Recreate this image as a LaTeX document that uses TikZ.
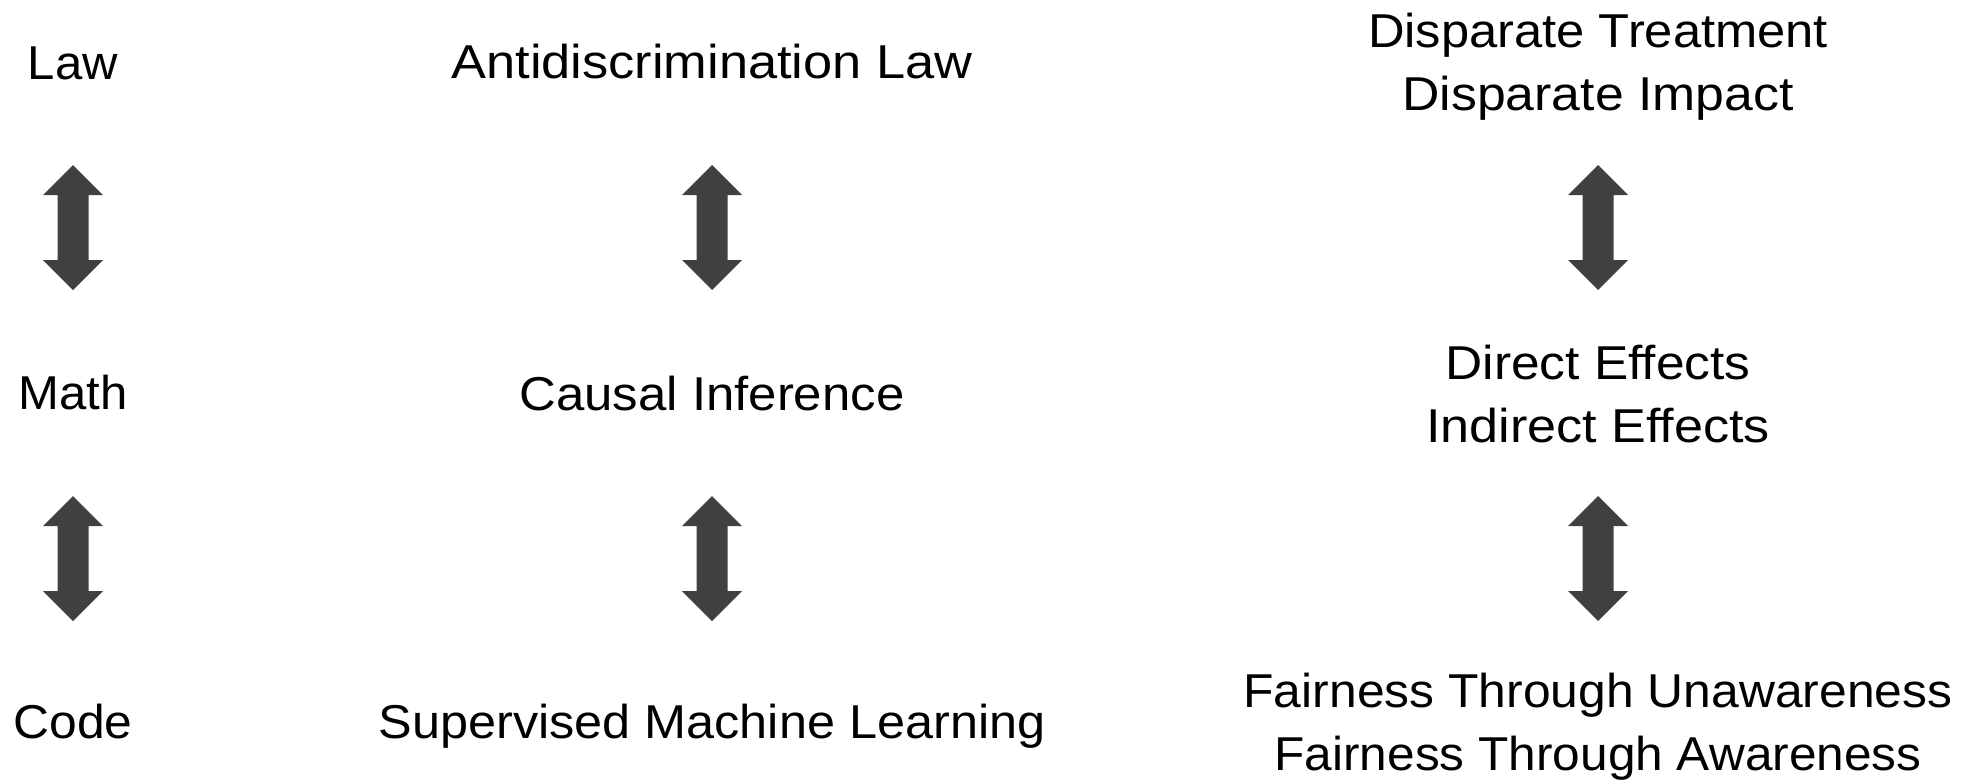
\documentclass[tikz,border=0pt]{standalone}
\usepackage{fontspec}
\setmainfont{Liberation Sans}
\usepackage{graphicx}
\definecolor{arrowgray}{HTML}{404040}
\newcommand\fw[2]{\resizebox{#1}{\height}{#2}}
\tikzset{
  lbl/.style={inner sep=0pt, anchor=base, align=center,
    font=\fontsize{47.5pt}{63pt}\selectfont, text=black},
  darr/.pic={\fill[arrowgray] (0,62.5pt) -- (30pt,32.5pt) -- (15.5pt,32.5pt) -- (15.5pt,-32.5pt)
     -- (30pt,-32.5pt) -- (0,-62.5pt) -- (-30pt,-32.5pt) -- (-15.5pt,-32.5pt)
     -- (-15.5pt,32.5pt) -- (-30pt,32.5pt) -- cycle;}
}
\begin{document}
\begin{tikzpicture}[x=1pt,y=1pt]
\useasboundingbox (0,0) rectangle (1975,-780);
% column 1
\node[lbl] (law)  at (73,-79)  {\fw{90pt}{Law}};
\node[lbl] (math) at (73,-409) {\fw{109pt}{Math}};
\node[lbl] (code) at (73,-738) {\fw{119pt}{Code}};
% column 2
\node[lbl] (anti)  at (712,-78)  {\fw{521pt}{Antidiscrimination Law}};
\node[lbl] (causal) at (712,-410) {\fw{385pt}{Causal Inference}};
\node[lbl] (sml)   at (712,-738) {\fw{667pt}{Supervised Machine Learning}};
% column 3
\node[lbl] (disp) at (1598,-110) {\fw{460pt}{Disparate Treatment}\\\fw{391pt}{Disparate Impact}};
\node[lbl] (eff)  at (1598,-442) {\fw{305pt}{Direct Effects}\\\fw{344pt}{Indirect Effects}};
\node[lbl] (fair) at (1598,-770) {\fw{709pt}{Fairness Through Unawareness}\\\fw{647pt}{Fairness Through Awareness}};
% double arrows
\coordinate (a11) at (73,-227.5);
\coordinate (a12) at (73,-558.5);
\coordinate (a21) at (712,-227.5);
\coordinate (a22) at (712,-558.5);
\coordinate (a31) at (1598,-227.5);
\coordinate (a32) at (1598,-558.5);
\foreach \c in {a11,a12,a21,a22,a31,a32} \pic at (\c) {darr};
\end{tikzpicture}
\end{document}
